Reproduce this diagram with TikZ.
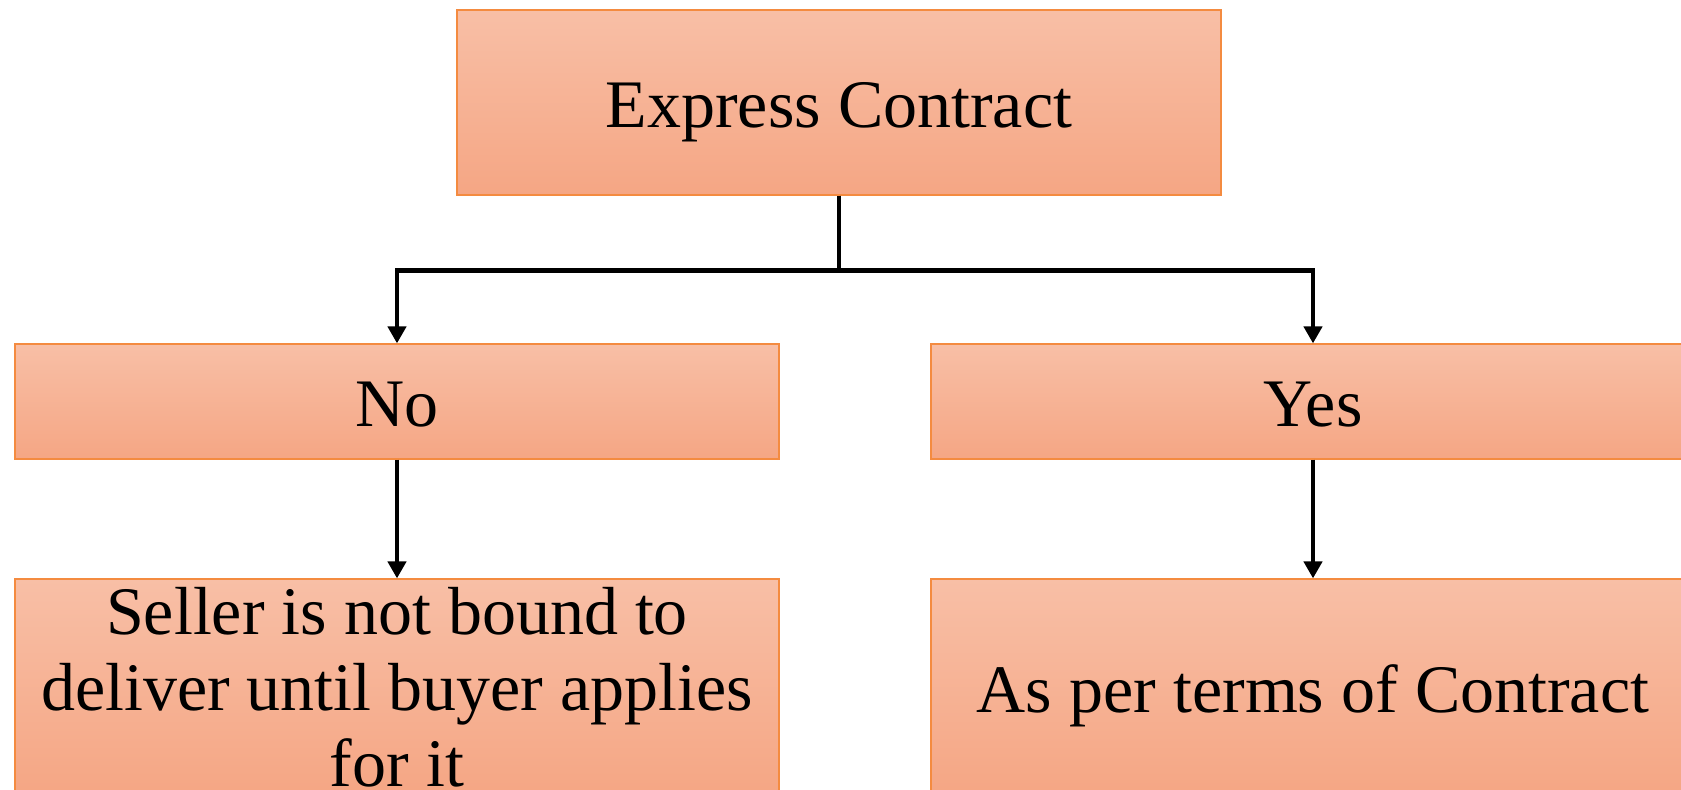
\documentclass[tikz,border=0pt]{standalone}
\usepackage{fontspec}
\setmainfont{Liberation Serif}
\usepackage{tikz}
\usetikzlibrary{arrows.meta}
\definecolor{boxtop}{RGB}{248, 191, 166}
\definecolor{boxbottom}{RGB}{245, 166, 132}
\definecolor{boxline}{RGB}{244, 139, 64}

\begin{document}
\begin{tikzpicture}[x=0.5pt, y=0.5pt,
    box/.style={draw=boxline, line width=0.6pt, top color=boxtop, bottom color=boxbottom,
        minimum width=382pt, inner sep=0pt, font=\fontsize{34}{38}\selectfont},
    oneline/.style={box, text height=34pt, text depth=8.8pt},
    conn/.style={line width=2.4pt, -{Triangle[length=8.5pt, width=9pt]}}]
\useasboundingbox (0,0) rectangle (1681,789);
\clip (0,0) rectangle (1681,789);
% top level
\node[oneline, minimum height=92.5pt] (express) at (839,686.5) {Express Contract};
% second row
\node[oneline, minimum height=57.5pt] (no) at (397,387.5) {No};
\node[oneline, minimum height=57.5pt] (yes) at (1313,387.5) {Yes};
% third row, runs off the bottom edge
\node[box, minimum height=108pt, align=center] (seller) at (397,102) {Seller is not bound to\\deliver until buyer applies\\for it};
\node[oneline, minimum height=108pt] (terms) at (1313,102) {As per terms of Contract};
\draw[conn] (express.south) -- ++(0,-75) -| (no.north);
\draw[conn] (express.south) -- ++(0,-75) -| (yes.north);
\draw[conn] (no) -- (seller);
\draw[conn] (yes) -- (terms);
\end{tikzpicture}
\end{document}
